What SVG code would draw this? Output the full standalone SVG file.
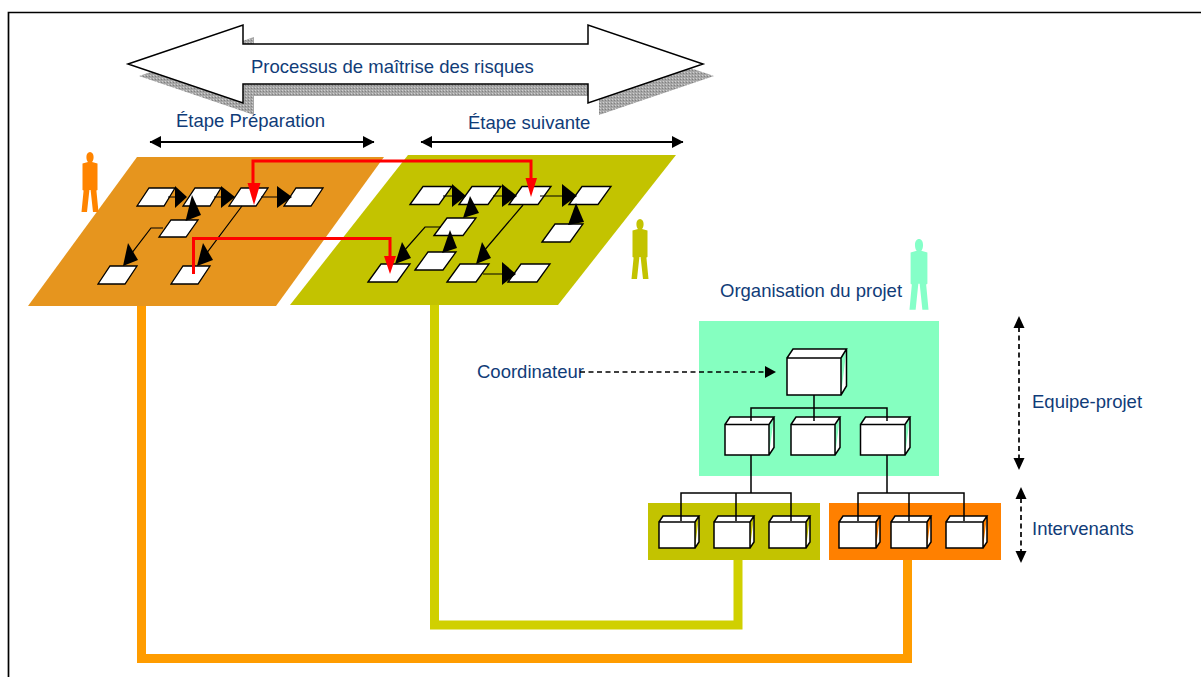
<svg xmlns="http://www.w3.org/2000/svg" xmlns:xlink="http://www.w3.org/1999/xlink" width="1201" height="677" viewBox="0 0 1201 677">
<style>
text{font-family:"Liberation Sans",Arial,sans-serif;font-size:18.5px;fill:#103c78}
.step{fill:#fff;stroke:#000;stroke-width:1.3}
.box{fill:#fff;stroke:#000;stroke-width:1.5;stroke-linejoin:miter}
.thin{fill:none;stroke:#000;stroke-width:1.2}
.tree{fill:none;stroke:#000;stroke-width:1.5}
.hd{fill:#000}
.red{fill:none;stroke:#f00;stroke-width:3}
.redh{fill:#f00}
.dbl{stroke:#000;stroke-width:2;fill:none;marker-start:url(#ma);marker-end:url(#ma)}
.dash{stroke:#000;stroke-width:1.7;stroke-dasharray:5 3.5;fill:none}
</style>
<defs>
<pattern id="stip" width="3" height="3" patternUnits="userSpaceOnUse"><rect width="3" height="3" fill="#a6a6a6"/><rect width="1" height="1" fill="#d0d0d0"/><rect x="2" y="1" width="1" height="1" fill="#808080"/></pattern>
<marker id="ma" markerUnits="userSpaceOnUse" markerWidth="12" markerHeight="12" refX="11" refY="6" orient="auto-start-reverse"><path d="M0 0L11.5 6L0 12Z" fill="#000"/></marker>
<path id="person" d="M0 0C2.2 0 3.6 2.2 3.6 5C3.6 7.5 2.8 9.2 2 10L7.5 11.5V38L6.4 38.5L8.5 60H3L.6 38H-.6L-3 60H-8.5L-6.4 38.5L-7.5 38V11.5L-2 10C-2.8 9.2-3.6 7.5-3.6 5C-3.6 2.2-2.2 0 0 0Z"/>
</defs>
<rect width="1201" height="677" fill="#fff"/>
<path d="M8.5 677V12.5H1201" fill="none" stroke="#000" stroke-width="1.7"/>

<g id="process-arrow">
<polygon points="139,76 254,115 254,96 599,96 599,115 714,76 599,37 599,56 254,56 254,37" fill="url(#stip)"/>
<polygon points="128,64 243,25 243,44 588,44 588,25 703,64 588,103 588,84 243,84 243,103" fill="#fff" stroke="#000" stroke-width="1.5"/>
<text x="251" y="73">Processus de maîtrise des risques</text>
</g>
<g id="label-preparation"><text x="176" y="127">Étape Préparation</text></g>
<g id="label-suivante"><text x="468" y="129">Étape suivante</text></g>

<g id="plan-preparation"><polygon points="137,157 384,157 276,306 28,306" fill="#e6951e"/></g>
<g id="plan-suivante"><polygon points="408,155 676,155 558,305 290,305" fill="#c3c300"/></g>
<g id="person-orange"><use xlink:href="#person" href="#person" transform="translate(90 152)" fill="#ff8400"/></g>
<g id="person-olive"><use xlink:href="#person" href="#person" transform="translate(640 219)" fill="#c3c300"/></g>
<g id="person-cyan"><use xlink:href="#person" href="#person" transform="translate(919 239) scale(1.12 1.18)" fill="#85ffc8"/></g>

<g id="step-p1"><polygon class="step" points="137,206 149,188 175,188 164,206"/></g>
<g id="step-p2"><polygon class="step" points="183,206 195,188 221,188 210,206"/></g>
<g id="step-p3"><polygon class="step" points="229,206 241,188 268,188 256,206"/></g>
<g id="step-p4"><polygon class="step" points="284,206 296,188 323,188 311,206"/></g>
<g id="step-p5"><polygon class="step" points="159,237 171,220 198,220 186,237"/></g>
<g id="step-p6"><polygon class="step" points="98,284 110,266 137,266 125,284"/></g>
<g id="step-p7"><polygon class="step" points="171,284 183,266 210,266 198,284"/></g>

<g id="step-s1"><polygon class="step" points="410,204.5 423,186.5 452,186.5 439,204.5"/></g>
<g id="step-s2"><polygon class="step" points="459,204.5 472,186.5 501,186.5 488,204.5"/></g>
<g id="step-s3"><polygon class="step" points="509,204.5 522,186.5 551,186.5 538,204.5"/></g>
<g id="step-s4"><polygon class="step" points="569,204.5 582,186.5 611,186.5 598,204.5"/></g>
<g id="step-s5"><polygon class="step" points="434,235.5 447,218 476,218 463,235.5"/></g>
<g id="step-s6"><polygon class="step" points="542,242 555,224 583,224 570,242"/></g>
<g id="step-s7"><polygon class="step" points="415,270 428,252 456,252 443,270"/></g>
<g id="step-s8"><polygon class="step" points="447,282 460,264 489,264 476,282"/></g>
<g id="step-s9"><polygon class="step" points="508,282 521,264 550,264 537,282"/></g>
<g id="step-s10"><polygon class="step" points="368,282 381,264 410,264 397,282"/></g>

<g id="label-organisation"><text x="720" y="297">Organisation du projet</text></g>
<g id="label-coordinateur"><text x="477" y="378">Coordinateur</text></g>
<g id="label-equipe"><text x="1032" y="408">Equipe-projet</text></g>
<g id="label-intervenants"><text x="1032" y="535">Intervenants</text></g>

<g id="team-panel"><rect x="699" y="321" width="240" height="155" fill="#85ffc0"/></g>
<g id="panel-olive"><rect x="648" y="503" width="172" height="57" fill="#c3c300"/></g>
<g id="panel-orange"><rect x="829" y="503" width="172" height="57" fill="#ff8000"/></g>

<g id="box-coordinateur"><path class="box" d="M787 358H841V395H787ZM787 358L793 349H846.5L841 358M846.5 349V386L841 395"/></g>
<g id="box-team1"><path class="box" d="M725 424.5H769V455H725ZM725 424.5L730 417H774L769 424.5M774 417V447.5L769 455"/></g>
<g id="box-team2"><path class="box" d="M791 424.5H835V455H791ZM791 424.5L796 417H840L835 424.5M840 417V447.5L835 455"/></g>
<g id="box-team3"><path class="box" d="M860.5 424.5H905V455H860.5ZM860.5 424.5L865.500 417H910L905 424.5M910 417V447.5L905 455"/></g>
<g id="box-o1"><path class="box" d="M659 522H695V548H659ZM659 522L663 516H699L695 522M699 516V542L695 548"/></g>
<g id="box-o2"><path class="box" d="M714 522H750V548H714ZM714 522L718 516H754L750 522M754 516V542L750 548"/></g>
<g id="box-o3"><path class="box" d="M769 522H806V548H769ZM769 522L773 516H810L806 522M810 516V542L806 548"/></g>
<g id="box-r1"><path class="box" d="M839 522H876V548H839ZM839 522L843 516H880L876 522M880 516V542L876 548"/></g>
<g id="box-r2"><path class="box" d="M891 522H927V548H891ZM891 522L895 516H931L927 522M931 516V542L927 548"/></g>
<g id="box-r3"><path class="box" d="M946 522H983V548H946ZM946 522L950 516H987L983 522M987 516V542L983 548"/></g>

<g id="connectors">
<path d="M141.500 306V658.500H907.500V560" fill="none" stroke="#ff9c00" stroke-width="9"/>
<path d="M434.500 305V625H738V560" fill="none" stroke="#d0d000" stroke-width="9"/>
<path class="dbl" d="M150 142H374"/>
<path class="dbl" d="M421 142H683"/>
<path class="tree" d="M814 395V408M751 421V408H887V421M814 408V421"/>
<path class="tree" d="M751 455V493M681 521V493H791V521M736 493V521"/>
<path class="tree" d="M887 455V493M858 521V493H964V521M909 493V521"/>
<path class="dash" d="M580 372H766"/>
<polygon class="hd" points="765,366 776,372 765,378"/>
<path class="dash" d="M1019 327V459"/>
<polygon class="hd" points="1013.500,328 1019,316 1024.500,328"/>
<polygon class="hd" points="1013.500,458 1019,470 1024.500,458"/>
<path class="dash" d="M1021 498V552"/>
<polygon class="hd" points="1015.500,499 1021,487 1026.500,499"/>
<polygon class="hd" points="1015.500,551 1021,563 1026.500,551"/>

<path class="thin" d="M168 197H176M214 197H222M261 197H278M163 228H151L128 258M242 206L203 258"/>
<polygon class="hd" points="175,186 187,197 175,208"/>
<polygon class="hd" points="221,186 235,197 221,208"/>
<polygon class="hd" points="277,186 292,197 277,208"/>
<polygon class="hd" points="192,195 185.500,221 201,215"/>
<polygon class="hd" points="123,266 128,243 138,260"/>
<polygon class="hd" points="197,266 203,243 213,260"/>

<path class="thin" d="M443 196H453M493 196H503M540 196H563M441 227H425L403 252M523 205L483 252M483 274H503"/>
<polygon class="hd" points="452,184 466,196 452,207"/>
<polygon class="hd" points="502,184 517,196 502,207"/>
<polygon class="hd" points="562,184 577,196 562,207"/>
<polygon class="hd" points="576,203 568,225 584,222"/>
<polygon class="hd" points="470,196 463,218 479,213"/>
<polygon class="hd" points="395,264 402,242 411,258"/>
<polygon class="hd" points="450,230 442,253 457,248"/>
<polygon class="hd" points="476,264 482,242 491,258"/>
<polygon class="hd" points="502,262 516,274 502,285"/>

<path class="red" d="M253 184V161H531V179"/>
<polygon class="redh" points="247.500,183 260.500,183 254,205"/>
<polygon class="redh" points="525.500,178 537,178 531,197"/>
<path class="red" d="M193.500 274V238.500H390V257"/>
<polygon class="redh" points="384,256 396,256 390,274"/>
</g>
</svg>
